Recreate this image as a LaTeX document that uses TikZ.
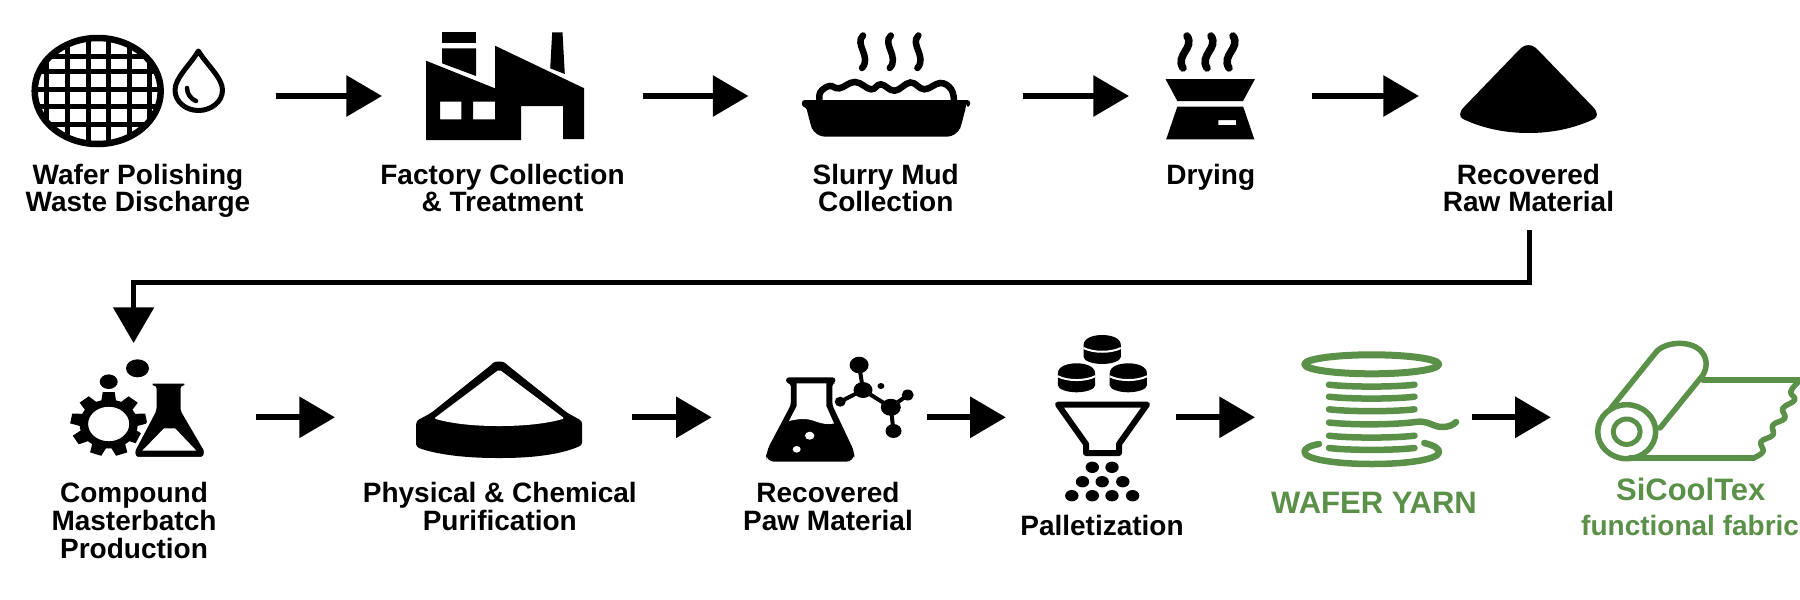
\documentclass[tikz,border=0pt]{standalone}
\usepackage{fontspec}
\setmainfont{Liberation Sans}
\usetikzlibrary{arrows.meta}
\definecolor{yarngreen}{HTML}{5A9048}

\begin{document}
\begin{tikzpicture}[x=1pt,y=-1pt]
	\tikzstyle{frame}=[rectangle, inner sep=0pt, outer sep=0pt, minimum height=100pt]
	\tikzstyle{connect}=[-{Triangle[length=35.6pt,width=40pt]}, line width=6pt]
	\tikzstyle{lab}=[inner sep=0pt, anchor=north, align=center, font=\fontsize{28}{27.7}\selectfont\bfseries]
	\tikzstyle{greenlab}=[inner sep=0pt, anchor=north, text=yarngreen, font=\fontsize{31}{31}\selectfont\bfseries]
	\tikzstyle{steam}=[line width=6.5pt, line cap=round]
	\tikzstyle{yarn}=[draw=yarngreen, line width=6.5pt, line cap=round, line join=round]
	\useasboundingbox (0,0) rectangle (1800,600);

	\node[frame, minimum width=255.5pt] (wafer) at (147.75,96) {};
	\node[frame, minimum width=260.5pt] (factory) at (512.25,96) {};
	\node[frame, minimum width=274pt] (slurry) at (885.5,96) {};
	\node[frame, minimum width=183.4pt] (drying) at (1220.7,96) {};
	\node[frame, minimum width=221pt] (pile) at (1529.5,96) {};
	\node[frame, minimum width=244.2pt, minimum height=148.6pt] (compound) at (133.6,417.3) {};
	\node[frame, minimum width=297pt] (purify) at (483.5,417.3) {};
	\node[frame, minimum width=215pt] (recovered) at (819.2,417.3) {};
	\node[frame, minimum width=170.2pt] (pellet) at (1090.9,417.3) {};
	\node[frame, minimum width=217pt] (spool) at (1363.5,417.3) {};
	\node[frame, minimum width=239.2pt] (roll) at (1670.4,417.3) {};

	\node[lab] (waferlab) at (138,163.6) {Wafer Polishing\\Waste Discharge};
	\node[lab] (factorylab) at (502.5,163.6) {Factory Collection\\\& Treatment};
	\node[lab] (slurrylab) at (885.7,163.6) {Slurry Mud\\Collection};
	\node[lab] (dryinglab) at (1210.8,163.6) {Drying};
	\node[lab] (pilelab) at (1528.5,163.6) {Recovered\\Raw Material};
	\node[lab] (compoundlab) at (134,482.3) {Compound\\Masterbatch\\Production};
	\node[lab] (purifylab) at (499.8,482.3) {Physical \& Chemical\\Purification};
	\node[lab] (recoveredlab) at (828,482.3) {Recovered\\Paw Material};
	\node[lab] (pelletlab) at (1102,515.3) {Palletization};
	\node[greenlab] (spoollab) at (1374,491.8) {WAFER YARN};
	\node[greenlab] (rolllab) at (1690.7,477.4) {SiCoolTex};
	\node[greenlab, anchor=north west, font=\fontsize{28}{28}\selectfont\bfseries] (rollsub) at (1581,514.6) {functional fabric};

	\coordinate (rawout) at (1529,230);
	\coordinate (bend) at (1529,282.7);
	\path (wafer) edge [connect] (factory)
	(factory) edge [connect] (slurry)
	(slurry) edge [connect] (drying)
	(drying) edge [connect] (pile)
	(compound) edge [connect] (purify)
	(purify) edge [connect] (recovered)
	(recovered) edge [connect] (pellet)
	(pellet) edge [connect] (spool)
	(spool) edge [connect] (roll);
	\draw[connect, line width=5pt] (rawout) -- (bend) -| (compound.north);

	% wafer and drop
	\begin{scope}
		\clip (97.7,91) ellipse [x radius=65pt, y radius=55pt];
		\foreach \x in {46.6,67,88,108,129,149} \draw[line width=5pt] (\x,30) -- (\x,150);
		\foreach \y in {56,71.7,89.3,106.7,124} \draw[line width=5pt] (30,\y) -- (165,\y);
	\end{scope}
	\draw[line width=6.5pt] (97.7,91) ellipse [x radius=63pt, y radius=53pt];
	\draw[line width=5pt, line join=round] (198.4,51) .. controls (190,65) and (175,78) .. (175,90) .. controls (175,102) and (186,110.5) .. (198.4,110.5) .. controls (211,110.5) and (222.5,102) .. (222.5,90) .. controls (222.5,78) and (207,65) .. cycle;
	\draw[line width=4.5pt, line cap=round] (187,88) .. controls (187,94) and (191,99) .. (196,101);

	% factory
	\fill[even odd rule] (426,60.7) -- (495,88.3) -- (495,45.7) -- (584.2,88.3) -- (584.2,139) -- (563.2,139) -- (563.2,106) -- (521,106) -- (521,140) -- (426,140) -- cycle
	(440,101.7) rectangle (461.3,119.3) (473,101.7) rectangle (495,119.3);
	\fill (442,32.3) rectangle (476,43.3);
	\fill (442,48.3) -- (476,48.3) -- (476,76) -- (442,63.3) -- cycle;
	\fill (552.2,32.3) -- (562.5,32.3) -- (564.8,74) -- (550.2,68.3) -- cycle;

	% slurry pan
	\foreach \x in {863,890.8,918.4} \draw[steam] (\x,35.5) .. controls (\x-9,44) and (\x+9,57) .. (\x-1,68);
	\draw[line width=6.5pt] plot[smooth, tension=.7] coordinates {(819.6,100) (820.5,92) (829.5,86) (839.4,88.3) (855.2,82) (871,89.3) (880.9,84.3) (894.7,90.7) (910.5,82.5) (924.3,89.3) (940.2,83) (951,89) (954,100)};
	\fill[rounded corners=3pt] (801.8,100) -- (970.2,100) -- (970.2,106.7) -- (966,106.7) -- (966,106.7) -- (961,126) [rounded corners=10pt] -- (957,136.7) -- (815,136.7) [rounded corners=3pt] -- (811,126) -- (806,106.7) -- (801.8,106.7) -- cycle;

	% drying
	\foreach \x in {1186,1210,1232} \draw[steam, line width=7.5pt] (\x+1,36) .. controls (\x+9,48) and (\x-11,55) .. (\x-3,68);
	\fill (1165.5,79) -- (1255,79) -- (1243,101) -- (1177.3,101) -- cycle;
	\fill[even odd rule] (1177.3,106.7) -- (1243.2,106.7) -- (1254.3,139.3) -- (1166.2,139.3) -- cycle (1218.3,120) rectangle (1236,125);

	% recovered pile
	\fill (1519,50) .. controls (1525,43.5) and (1532,43.5) .. (1538,50) -- (1593,107) .. controls (1598,112) and (1598,117) .. (1594,119) .. controls (1575,128) and (1553,133) .. (1528.6,133) .. controls (1504,133) and (1482,128) .. (1463,119) .. controls (1459,117) and (1459,112) .. (1464,107) -- cycle;

	% compound
	\fill (137.5,368.3) ellipse [x radius=11.5pt, y radius=9pt];
	\fill (108.7,381.7) ellipse [x radius=9pt, y radius=7.3pt];
	\begin{scope}[shift={(108.7,424)}, xscale=1.19]
		\foreach \a in {0,40,...,320} \fill[rotate=\a] (-6.5,-21) -- (-5,-32) -- (5,-32) -- (6.5,-21) -- cycle;
		\fill[even odd rule] (0,0) circle [radius=24.5pt] (0,0) circle [radius=17.3pt];
	\end{scope}
	\fill[draw=white, line width=3pt, rounded corners=2pt] (151,382) -- (186,382) -- (186,387) -- (182,387) -- (182,410) -- (206,451) -- (204,458.3) -- (135,458.3) -- (133.4,451) -- (155,410) -- (155,387) -- (151,387) -- cycle;
	\fill[white] (164,428.3) -- (175,428.3) -- (196.4,450.7) -- (142.3,450.7) -- cycle;

	% purified pile
	\fill[rounded corners=3pt] (416.2,447) -- (416.2,421) -- (431,413) -- (491,365) .. controls (495,361) and (503,361) .. (507.4,365) -- (567.5,413) -- (582.2,421) -- (582.2,445) .. controls (560,455) and (530,458) .. (499,458) .. controls (468,458) and (438,455) .. (416.2,447) -- cycle;
	\fill[white, rounded corners=2pt] (499.2,369.5) -- (564.5,418.5) .. controls (545,424) and (522,426) .. (499.2,426) .. controls (476,426) and (453,424) .. (434,418.5) -- cycle;

	% flask and molecule
	\fill[rounded corners=3pt] (786,377.3) -- (835.4,377.3) -- (835.4,383.3) -- (832.3,383.3) -- (832.3,405) [rounded corners=6pt] -- (854.5,452) [rounded corners=8pt] -- (854,461.7) -- (766.2,461.7) -- (766,452) [rounded corners=3pt] -- (790.8,405) -- (790.8,383.3) -- (786,383.3) -- cycle;
	\fill[white] (796.7,383.3) -- (826.3,383.3) -- (826.3,406) -- (834,423.5) .. controls (820,426) and (815,419) .. (804,419) .. controls (798,419) and (793,420) .. (789,421) -- (796.7,406) -- cycle;
	\fill[white] (809.7,435.7) ellipse [x radius=4.7pt, y radius=4pt] (796.7,449.3) ellipse [x radius=4pt, y radius=3.3pt];
	\draw[line width=4pt] (859.1,365) -- (863,390) -- (840.2,401.7) (863,390) -- (890.8,407.3) -- (907.7,395) (890.8,407.3) -- (893.5,431);
	\fill (859.1,365) ellipse [x radius=9.5pt, y radius=8.3pt]
	(863,390) ellipse [x radius=9.5pt, y radius=8pt]
	(840.2,401.7) ellipse [x radius=5.5pt, y radius=5pt]
	(890.8,407.3) ellipse [x radius=10pt, y radius=8.5pt]
	(907.7,395) ellipse [x radius=6pt, y radius=5.5pt]
	(893.5,431) ellipse [x radius=8pt, y radius=7pt]
	(880.9,386) ellipse [x radius=3.5pt, y radius=3pt];

	% pellets and funnel
	\foreach \x/\y in {1102.2/335, 1076.5/363.3, 1128.3/363.3} {
		\fill (\x-18.6,\y+10) .. controls (\x-18.6,\y+3) and (\x-9,\y) .. (\x,\y) .. controls (\x+9,\y) and (\x+18.6,\y+3) .. (\x+18.6,\y+10) -- (\x+18.6,\y+22) .. controls (\x+18.6,\y+26) and (\x+9,\y+29) .. (\x,\y+29) .. controls (\x-9,\y+29) and (\x-18.6,\y+26) .. (\x-18.6,\y+22) -- cycle;
		\draw[white, line width=2pt] (\x-18.6,\y+13) .. controls (\x-9,\y+18) and (\x+9,\y+18) .. (\x+18.6,\y+13);
	}
	\draw[line width=6pt, line join=round] (1058,404.5) -- (1147,404.5) -- (1119,444) -- (1119,453) -- (1086,453) -- (1086,444) -- cycle;
	\foreach \x/\y in {1092.3/467.3, 1112/467.3, 1082.5/481.7, 1102.2/481.7, 1122.8/481.7, 1071.8/495.7, 1092.3/495.7, 1112/495.7, 1132.6/495.7}
		\fill (\x,\y) ellipse [x radius=6.7pt, y radius=5.7pt];

	% spool
	\draw[yarn, line width=7pt] (1371.7,364.3) ellipse [x radius=67pt, y radius=9.5pt];
	\foreach \y in {385.7,397.7,410.3,436.7,449}
		\draw[yarn] (1329,\y-1) .. controls (1350,\y+1.5) and (1393,\y+1.5) .. (1414.5,\y-1);
	\draw[yarn] (1329,422.5) .. controls (1350,425) and (1393,425) .. (1415.2,422) .. controls (1428,420) and (1433,427) .. (1442,427) .. controls (1449,427) and (1453,425) .. (1456,422);
	\draw[yarn] (1319,444) .. controls (1308,446) and (1304.5,449) .. (1304.5,452) .. controls (1304.5,459) and (1334,464) .. (1372,464) .. controls (1410,464) and (1439,459) .. (1439,452) .. controls (1439,449) and (1436,446) .. (1424.3,443);

	% fabric roll
	\draw[yarn, line width=5.5pt] (1626.7,431.7) ellipse [x radius=29pt, y radius=27pt];
	\draw[yarn, line width=5pt] (1626.7,431.7) ellipse [x radius=13.5pt, y radius=12.7pt];
	\draw[yarn, line width=5.5pt] (1611,408) -- (1657,351) .. controls (1668,341) and (1690,341) .. (1700,350) .. controls (1707,357) and (1708,366) .. (1703,375) -- (1660,428);
	\draw[yarn, line width=5.5pt] (1703,380) -- (1800,380);
	\draw[yarn, line width=5.5pt] (1630,458) -- (1753,458);
	\draw[yarn, line width=5.5pt] plot[smooth, tension=.7] coordinates {(1798.6,381.7) (1790.7,391.7) (1794.7,400) (1782.8,408.3) (1784.8,418.3) (1772.9,425) (1772.9,435) (1761,441.7) (1763,451.7) (1753,458.3)};
\end{tikzpicture}
\end{document}
